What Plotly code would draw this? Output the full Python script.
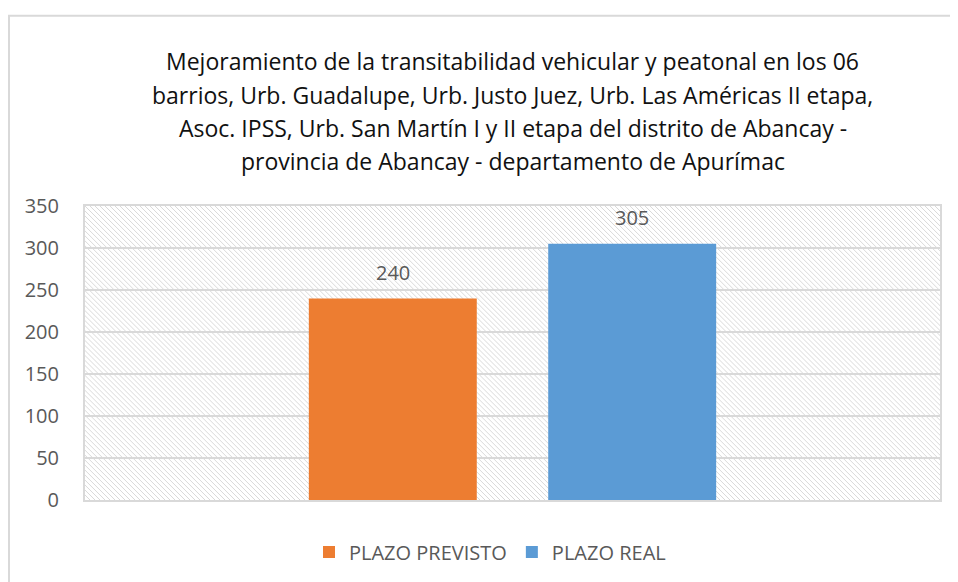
import base64
import plotly.graph_objects as go

categories = ["Plazo"]
series_names = ["PLAZO PREVISTO", "PLAZO REAL"]
plazo_previsto = [240]
plazo_real = [305]
series_colors = ["#ED7D31", "#5B9BD5"]
y_ticks = [0, 50, 100, 150, 200, 250, 300, 350]
title_lines = [
    "Mejoramiento de la transitabilidad vehicular y peatonal en los 06",
    "barrios, Urb. Guadalupe, Urb. Justo Juez, Urb. Las Américas II etapa,",
    "Asoc. IPSS, Urb. San Martín I y II etapa del distrito de Abancay -",
    "provincia de Abancay - departamento de Apurímac",
]

# page has an 8px body margin; work in screen coords and subtract it
OFF = 8
W, H = 958 - OFF, 582 - OFF
PL, PT, PR, PB = 85, 206, 940, 501          # plot area in screen px
ML, MT = PL - OFF, PT - OFF
MR, MB = W - (PR - OFF), H - (PB - OFF)
PW, PH = PR - PL, PB - PT

FONT = "Open Sans, Lato, sans-serif"
GRAY = "#595959"
BARGAP, GROUPGAP = 0.44, 0.2985

svg = f'''<svg xmlns="http://www.w3.org/2000/svg" width="{PW}" height="{PH}" viewBox="0 0 {PW} {PH}" preserveAspectRatio="none">
<defs><pattern id="p" width="5" height="5" patternUnits="userSpaceOnUse">
<path d="M-1,-1 L6,6 M-1,4 L1,6 M4,-1 L6,1" stroke="#d9d9d9" stroke-width="1"/>
</pattern></defs>
<rect width="{PW}" height="{PH}" fill="white"/>
<rect width="{PW}" height="{PH}" fill="url(#p)"/>
</svg>'''
src = "data:image/svg+xml;base64," + base64.b64encode(svg.encode()).decode()

def sy(y):  # screen y -> paper y
    return (PB - y) / PH

def sx(x):  # screen x -> paper x
    return (x - PL) / PW

fig = go.Figure()
annotations = []
slot_px = (1 - BARGAP) / 2 * PW
for i, (name, vals, col) in enumerate(zip(series_names, [plazo_previsto, plazo_real], series_colors)):
    fig.add_trace(go.Bar(
        x=categories, y=vals, name=name, marker=dict(color=col, line=dict(width=0)),
    ))
    for j, v in enumerate(vals):
        annotations.append(dict(
            x=j, y=v, xref="x", yref="y", text=str(v), showarrow=False,
            xanchor="center", yanchor="middle", yshift=26,
            xshift=(i - 0.5) * slot_px,
            font=dict(family=FONT, size=20, color=GRAY),
        ))

for line, yc in zip(title_lines, [61, 95, 128, 161]):
    annotations.append(dict(
        text=line, xref="paper", yref="paper", x=0.5, y=sy(yc),
        xanchor="center", yanchor="middle", showarrow=False,
        font=dict(family=FONT, size=23, color="#111111"),
    ))

fig.update_layout(
    width=W, height=H,
    margin=dict(l=ML, r=MR, t=MT, b=MB),
    paper_bgcolor="white", plot_bgcolor="rgba(0,0,0,0)",
    barmode="group", bargap=BARGAP, bargroupgap=GROUPGAP,
    showlegend=True,
    legend=dict(orientation="h", x=sx(309), xanchor="left", y=sy(552), yanchor="middle",
                font=dict(family=FONT, size=20, color=GRAY), traceorder="normal"),
    annotations=annotations,
    images=[dict(source=src, xref="paper", yref="paper", x=0, y=1, sizex=1, sizey=1,
                 sizing="stretch", xanchor="left", yanchor="top", layer="below")],
    shapes=[dict(type="rect", xref="paper", yref="paper",
                 x0=sx(9), x1=sx(975), y0=sy(600), y1=sy(15),
                 line=dict(color="#d9d9d9", width=2), fillcolor="rgba(0,0,0,0)", layer="below")],
    xaxis=dict(type="category", range=[-0.5, 0.5], autorange=False,
               showticklabels=False, showgrid=False, showline=True, linecolor="#d9d9d9",
               linewidth=2, mirror=True, ticks=""),
    yaxis=dict(range=[0, 350], tickvals=y_ticks, showgrid=True, gridcolor="#d9d9d9", gridwidth=2,
               showline=True, linecolor="#d9d9d9", linewidth=2, mirror=True, zeroline=False,
               tickfont=dict(family=FONT, size=20, color=GRAY), ticks="", ticklen=0,
               ticklabelstandoff=20),
)

fig.write_html("out.html")
